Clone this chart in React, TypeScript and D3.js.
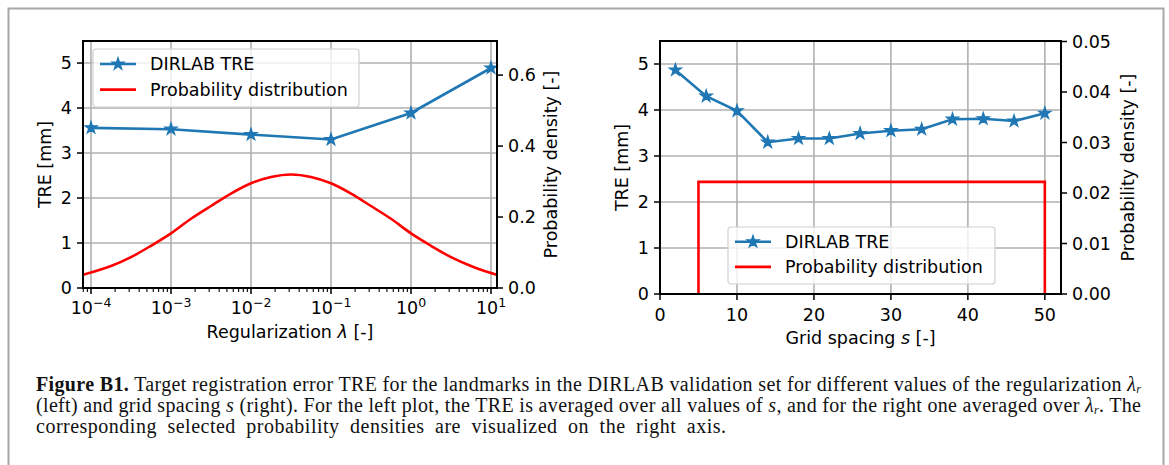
import React, { useEffect, useRef } from 'react';
import * as d3 from 'd3';

// Left panel: TRE vs regularization (log axis)
const lambdaValues = [1e-4, 1e-3, 1e-2, 1e-1, 1, 10];
const lambdaTre = [3.56, 3.53, 3.41, 3.3, 3.89, 4.89];
const lambdaDensityX = [
  7.94e-5, 1.78e-4, 3.16e-4, 5.62e-4, 1e-3, 1.78e-3, 3.16e-3, 5.62e-3, 1e-2, 1.78e-2,
  3.16e-2, 5.62e-2, 0.1, 0.178, 0.316, 0.562, 1, 1.78, 3.16, 5.62, 10, 11.9,
];
const lambdaDensityY = [
  0.037, 0.062, 0.087, 0.119, 0.154, 0.195, 0.231, 0.266, 0.295, 0.313,
  0.32, 0.313, 0.295, 0.266, 0.231, 0.195, 0.154, 0.119, 0.087, 0.062, 0.042, 0.037,
];
const lambdaTicks = [1e-4, 1e-3, 1e-2, 1e-1, 1, 10];
const lambdaTickExp = ['−4', '−3', '−2', '−1', '0', '1'];

// Right panel: TRE vs grid spacing
const gridSpacing = [2, 6, 10, 14, 18, 22, 26, 30, 34, 38, 42, 46, 50];
const gridTre = [4.87, 4.3, 3.98, 3.3, 3.38, 3.38, 3.49, 3.55, 3.58, 3.8, 3.81, 3.76, 3.93];
const gridDensityX = [5, 5, 50, 50];
const gridDensityY = [0, 0.0222, 0.0222, 0];
const gridTicks = [0, 10, 20, 30, 40, 50];

const treTicks = [0, 1, 2, 3, 4, 5];
const leftDensityTicks = [0, 0.2, 0.4, 0.6];
const rightDensityTicks = [0, 0.01, 0.02, 0.03, 0.04, 0.05];

const legendLabels = ['DIRLAB TRE', 'Probability distribution'];

const BLUE = '#1f77b4';
const RED = '#ff0000';
const FONT = 'DejaVu Sans, sans-serif';
const FS = 17.5;

type Box = { left: number; right: number; top: number; bottom: number };

const App: React.FC = () => {
  const svgRef = useRef<SVGSVGElement>(null);

  useEffect(() => {
    if (!svgRef.current) return;
    const root = d3.select(svgRef.current);
    root.selectAll('*').remove();

    // Figure frame
    root
      .append('rect')
      .attr('x', 8.5)
      .attr('y', 8.5)
      .attr('width', 1155)
      .attr('height', 480)
      .attr('fill', 'none')
      .attr('stroke', '#a8a8a8')
      .attr('stroke-width', 2);

    const drawPanel = (
      id: string,
      box: Box,
      x: any,
      yL: d3.ScaleLinear<number, number>,
      yR: d3.ScaleLinear<number, number>,
      xTicks: number[],
      rTicks: number[],
      rFormat: (d: number) => string,
      blueX: number[],
      blueY: number[],
      redX: number[],
      redY: number[],
      redCurve: d3.CurveFactory,
      legend: { left: number; top: number; width: number; height: number },
      labels: { yLx: number; yRx: number; xLy: number; xTickY: number },
      xTickLabel: (g: any, d: number, i: number) => void,
      xLabel: (t: any) => void
    ) => {
      const g = root.append('g');
      const w = box.right - box.left;
      const h = box.bottom - box.top;

      g.append('clipPath')
        .attr('id', `clip-${id}`)
        .append('rect')
        .attr('x', box.left)
        .attr('y', box.top)
        .attr('width', w)
        .attr('height', h);

      // Grid
      const grid = g.append('g').attr('stroke', '#b0b0b0').attr('stroke-width', 1.6);
      xTicks.forEach(t => {
        grid.append('line')
          .attr('x1', x(t)).attr('x2', x(t))
          .attr('y1', box.top).attr('y2', box.bottom);
      });
      treTicks.forEach(t => {
        grid.append('line')
          .attr('x1', box.left).attr('x2', box.right)
          .attr('y1', yL(t)).attr('y2', yL(t));
      });

      // Blue TRE line
      const blueData = blueX.map((v, i) => [v, blueY[i]] as [number, number]);
      const blueLine = d3.line<[number, number]>().x(d => x(d[0])).y(d => yL(d[1]));
      const plot = g.append('g').attr('clip-path', `url(#clip-${id})`);
      plot.append('path')
        .datum(blueData)
        .attr('fill', 'none')
        .attr('stroke', BLUE)
        .attr('stroke-width', 2.6)
        .attr('d', blueLine);
      const star = d3.symbol().type(d3.symbolStar).size(46);
      g.selectAll(`.star-${id}`)
        .data(blueData)
        .join('path')
        .attr('class', `star-${id}`)
        .attr('transform', d => `translate(${x(d[0])},${yL(d[1])})`)
        .attr('d', star)
        .attr('fill', BLUE)
        .attr('stroke', BLUE)
        .attr('stroke-width', 1.2);

      // Red density line (right axis)
      const redData = redX.map((v, i) => [v, redY[i]] as [number, number]);
      const redLine = d3.line<[number, number]>().x(d => x(d[0])).y(d => yR(d[1])).curve(redCurve);
      plot.append('path')
        .datum(redData)
        .attr('fill', 'none')
        .attr('stroke', RED)
        .attr('stroke-width', 2.6)
        .attr('d', redLine);

      // Spines
      g.append('rect')
        .attr('x', box.left)
        .attr('y', box.top)
        .attr('width', w)
        .attr('height', h)
        .attr('fill', 'none')
        .attr('stroke', '#000')
        .attr('stroke-width', 2);

      // Left y ticks
      const ticks = g.append('g').attr('font-family', FONT).attr('font-size', FS).attr('fill', '#000');
      treTicks.forEach(t => {
        ticks.append('line')
          .attr('x1', box.left - 6).attr('x2', box.left)
          .attr('y1', yL(t)).attr('y2', yL(t))
          .attr('stroke', '#000').attr('stroke-width', 1.5);
        ticks.append('text')
          .attr('x', box.left - 11)
          .attr('y', yL(t))
          .attr('dy', '0.36em')
          .attr('text-anchor', 'end')
          .text(String(t));
      });
      // Right y ticks
      rTicks.forEach(t => {
        ticks.append('line')
          .attr('x1', box.right).attr('x2', box.right + 6)
          .attr('y1', yR(t)).attr('y2', yR(t))
          .attr('stroke', '#000').attr('stroke-width', 1.5);
        ticks.append('text')
          .attr('x', box.right + 11)
          .attr('y', yR(t))
          .attr('dy', '0.36em')
          .text(rFormat(t));
      });
      // X ticks
      xTicks.forEach((t, i) => {
        ticks.append('line')
          .attr('x1', x(t)).attr('x2', x(t))
          .attr('y1', box.bottom).attr('y2', box.bottom + 6)
          .attr('stroke', '#000').attr('stroke-width', 1.5);
        const lg = ticks.append('g').attr('transform', `translate(${x(t)},${labels.xTickY})`);
        xTickLabel(lg, t, i);
      });

      // Axis labels
      ticks.append('text')
        .attr('transform', `translate(${labels.yLx},${(box.top + box.bottom) / 2}) rotate(-90)`)
        .attr('text-anchor', 'middle')
        .attr('dy', '0.36em')
        .text('TRE [mm]');
      ticks.append('text')
        .attr('transform', `translate(${labels.yRx},${(box.top + box.bottom) / 2}) rotate(-90)`)
        .attr('text-anchor', 'middle')
        .attr('dy', '0.36em')
        .text('Probability density [-]');
      const xl = ticks.append('text')
        .attr('x', (box.left + box.right) / 2)
        .attr('y', labels.xLy)
        .attr('text-anchor', 'middle');
      xLabel(xl);

      // Legend
      const lg = g.append('g').attr('transform', `translate(${legend.left},${legend.top})`);
      lg.append('rect')
        .attr('width', legend.width)
        .attr('height', legend.height)
        .attr('rx', 3)
        .attr('fill', 'white')
        .attr('fill-opacity', 0.8)
        .attr('stroke', '#d0d0d0')
        .attr('stroke-width', 1.2);
      const rowY = [legend.height * 0.25 + 0.5, legend.height * 0.7];
      legendLabels.forEach((label, i) => {
        const color = i === 0 ? BLUE : RED;
        lg.append('line')
          .attr('x1', 7).attr('x2', 43)
          .attr('y1', rowY[i]).attr('y2', rowY[i])
          .attr('stroke', color).attr('stroke-width', 2.6);
        if (i === 0) {
          lg.append('path')
            .attr('transform', `translate(25,${rowY[i]})`)
            .attr('d', star)
            .attr('fill', BLUE)
            .attr('stroke', BLUE)
            .attr('stroke-width', 1.2);
        }
        lg.append('text')
          .attr('x', 57)
          .attr('y', rowY[i])
          .attr('dy', '0.36em')
          .attr('font-family', FONT)
          .attr('font-size', FS)
          .attr('fill', '#000')
          .text(label);
      });
    };

    // Left panel
    const boxL: Box = { left: 83, right: 497, top: 41, bottom: 288 };
    const xL = d3.scaleLog().domain([Math.pow(10, -4.1), Math.pow(10, 1.075)]).range([boxL.left, boxL.right]);
    const yLL = d3.scaleLinear().domain([0, 5.49]).range([boxL.bottom, boxL.top]);
    const yLR = d3.scaleLinear().domain([0, 0.696]).range([boxL.bottom, boxL.top]);

    // minor log ticks
    const minor = root.append('g');
    for (let e = -5; e <= 1; e++) {
      for (let m = 2; m <= 9; m++) {
        const v = m * Math.pow(10, e);
        if (v < xL.domain()[0] || v > xL.domain()[1]) continue;
        minor.append('line')
          .attr('x1', xL(v)).attr('x2', xL(v))
          .attr('y1', boxL.bottom).attr('y2', boxL.bottom + 4)
          .attr('stroke', '#000').attr('stroke-width', 1.1);
      }
    }

    drawPanel(
      'l', boxL, xL, yLL, yLR, lambdaTicks, leftDensityTicks, d => d.toFixed(1),
      lambdaValues, lambdaTre, lambdaDensityX, lambdaDensityY, d3.curveCatmullRom,
      { left: 93, top: 49, width: 266, height: 58 },
      { yLx: 45, yRx: 551, xLy: 338, xTickY: 314 },
      (g, d, i) => {
        const t = g.append('text').attr('text-anchor', 'middle').attr('x', 0).attr('y', 0);
        t.append('tspan').text('10');
        t.append('tspan').attr('dy', -7).attr('font-size', 12.5).text(lambdaTickExp[i]);
      },
      t => {
        t.append('tspan').text('Regularization ');
        t.append('tspan').attr('font-style', 'italic').text('λ');
        t.append('tspan').text(' [-]');
      }
    );

    // Right panel
    const boxR: Box = { left: 660, right: 1061, top: 41, bottom: 294 };
    const xR = d3.scaleLinear().domain([0, 52.1]).range([boxR.left, boxR.right]);
    const yRL = d3.scaleLinear().domain([0, 5.5]).range([boxR.bottom, boxR.top]);
    const yRR = d3.scaleLinear().domain([0, 0.0501]).range([boxR.bottom, boxR.top]);

    drawPanel(
      'r', boxR, xR, yRL, yRR, gridTicks, rightDensityTicks, d => d.toFixed(2),
      gridSpacing, gridTre, gridDensityX, gridDensityY, d3.curveLinear,
      { left: 728, top: 227, width: 267, height: 57 },
      { yLx: 622, yRx: 1128, xLy: 344, xTickY: 321 },
      (g, d) => {
        g.append('text').attr('text-anchor', 'middle').text(String(d));
      },
      t => {
        t.append('tspan').text('Grid spacing ');
        t.append('tspan').attr('font-style', 'italic').text('s');
        t.append('tspan').text(' [-]');
      }
    );
  }, []);

  const cap = { fontFamily: 'Liberation Serif, serif', fontSize: 20, fill: '#111' } as const;

  return (
    <div style={{ position: 'absolute', left: 0, top: 0 }}>
      <svg ref={svgRef} width={1169} height={465} style={{ display: 'block', background: 'white' }}>
      </svg>
      <svg width={1169} height={465} style={{ position: 'absolute', left: 0, top: 0 }}>
        <text x={36} y={391} {...cap} textLength={1105} lengthAdjust="spacing">
          <tspan fontWeight="bold">Figure B1.</tspan>
          <tspan> Target registration error TRE for the landmarks in the DIRLAB validation set for different values of the regularization </tspan>
          <tspan fontStyle="italic">λ</tspan>
          <tspan fontStyle="italic" fontSize={12} dy={2}>r</tspan>
        </text>
        <text x={36} y={412} {...cap} textLength={1105} lengthAdjust="spacing">
          <tspan>(left) and grid spacing </tspan>
          <tspan fontStyle="italic">s</tspan>
          <tspan> (right). For the left plot, the TRE is averaged over all values of </tspan>
          <tspan fontStyle="italic">s</tspan>
          <tspan>, and for the right one averaged over </tspan>
          <tspan fontStyle="italic">λ</tspan>
          <tspan fontStyle="italic" fontSize={12} dy={2}>r</tspan>
          <tspan dy={-2}>. The</tspan>
        </text>
        <text x={36} y={433} {...cap} style={{ letterSpacing: '0.5px', wordSpacing: '5px' }}>
          corresponding selected probability densities are visualized on the right axis.
        </text>
      </svg>
    </div>
  );
};

export default App;
